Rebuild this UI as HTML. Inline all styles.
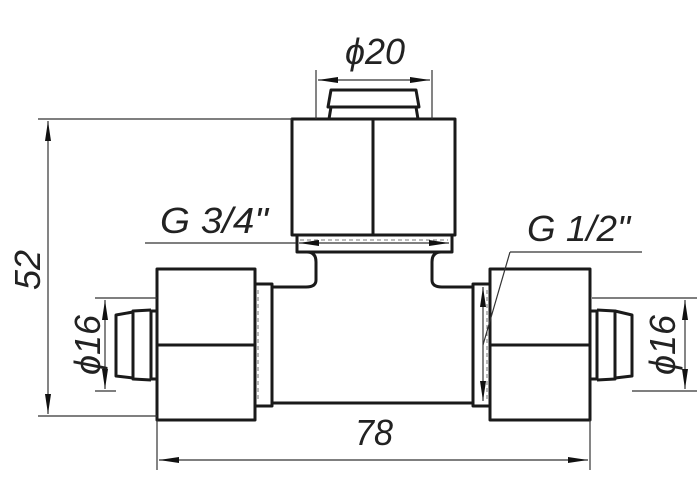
<!DOCTYPE html>
<html><head><style>body{margin:0;background:#fff}svg{display:block}text{font-family:"Liberation Sans Narrow","Liberation Sans",sans-serif;font-style:italic;font-size:36px;fill:#222}</style></head><body>
<svg width="700" height="500" viewBox="0 0 700 500" xmlns="http://www.w3.org/2000/svg">
<defs><marker id="a" viewBox="0 0 20 6" refX="20" refY="3" markerWidth="20" markerHeight="6" orient="auto-start-reverse" markerUnits="userSpaceOnUse"><path d="M0,0L20,3L0,6z" fill="#111"/></marker></defs>
<g fill="none" stroke="#1a1a1a" stroke-width="3" stroke-linejoin="round">
<path d="M329,119L331,107L328,107L331,90L416,90L419,107L416,107L418,119"/>
<line x1="328" y1="107" x2="419" y2="107"/>
<rect x="292" y="119" width="163" height="116"/>
<line x1="373" y1="119" x2="373" y2="235"/>
<rect x="297" y="235" width="155" height="17"/>
<path d="M307,252Q316,252 316,262L316,280Q316,287 306,287L273,287"/>
<path d="M441,252Q432,252 432,262L432,280Q432,287 442,287L473,287"/>
<line x1="273" y1="403" x2="473" y2="403"/>
<rect x="157" y="269" width="98" height="151"/>
<line x1="157" y1="345" x2="255" y2="345"/>
<rect x="255" y="284" width="17" height="122"/>
<path d="M157,311L151,311L151,379L157,379"/>
<path d="M151,310L133,311L133,379L151,380"/>
<path d="M133,312L116,315L116,376L133,378"/>
<rect x="490" y="269" width="100" height="151"/>
<line x1="490" y1="345" x2="590" y2="345"/>
<rect x="473" y="284" width="17" height="122"/>
<path d="M590,311L597,311L597,379L590,379"/>
<path d="M597,310L615,311L615,379L597,380"/>
<path d="M615,311L632,315L632,376L615,378"/>
</g>
<g stroke="#777" stroke-width="1" fill="none">
<line x1="300" y1="240" x2="448" y2="240" stroke-dasharray="4 3"/>
<line x1="258" y1="290" x2="258" y2="400" stroke-dasharray="4 3"/>
<line x1="487" y1="290" x2="487" y2="400" stroke-dasharray="4 3"/>
</g>
<g stroke="#333" stroke-width="1.2" fill="none">
<line x1="38" y1="119" x2="292" y2="119"/><line x1="38" y1="416" x2="157" y2="416"/>
<line x1="48" y1="121" x2="48" y2="414" marker-start="url(#a)" marker-end="url(#a)"/>
<line x1="95" y1="298" x2="157" y2="298"/><line x1="95" y1="391" x2="116" y2="391"/>
<line x1="105" y1="300" x2="105" y2="389" marker-start="url(#a)" marker-end="url(#a)"/>
<line x1="592" y1="298" x2="697" y2="298"/><line x1="632" y1="391" x2="697" y2="391"/>
<line x1="685" y1="300" x2="685" y2="389" marker-start="url(#a)" marker-end="url(#a)"/>
<line x1="157" y1="420" x2="157" y2="470"/><line x1="590" y1="420" x2="590" y2="470"/>
<line x1="159" y1="460" x2="588" y2="460" marker-start="url(#a)" marker-end="url(#a)"/>
<line x1="316" y1="70" x2="316" y2="119"/><line x1="432" y1="70" x2="432" y2="119"/>
<line x1="318" y1="80" x2="430" y2="80" marker-start="url(#a)" marker-end="url(#a)"/>
<line x1="145" y1="243" x2="296" y2="243"/>
<line x1="299" y1="243" x2="449" y2="243" marker-start="url(#a)" marker-end="url(#a)"/>
<line x1="510" y1="252" x2="642" y2="252"/><line x1="510" y1="252" x2="483" y2="345"/>
<line x1="483" y1="287" x2="483" y2="401" marker-start="url(#a)" marker-end="url(#a)"/>
</g>
<text x="345" y="64" textLength="60" lengthAdjust="spacingAndGlyphs">ϕ20</text>
<text x="160" y="233" textLength="108" lengthAdjust="spacingAndGlyphs">G 3/4"</text>
<text x="527" y="241" textLength="103" lengthAdjust="spacingAndGlyphs">G 1/2"</text>
<text x="355" y="445" textLength="38" lengthAdjust="spacingAndGlyphs">78</text>
<text transform="translate(40,290) rotate(-90)" textLength="40" lengthAdjust="spacingAndGlyphs">52</text>
<text transform="translate(100,375) rotate(-90)" textLength="60" lengthAdjust="spacingAndGlyphs">ϕ16</text>
<text transform="translate(675,375) rotate(-90)" textLength="60" lengthAdjust="spacingAndGlyphs">ϕ16</text>
</svg>
</body></html>
